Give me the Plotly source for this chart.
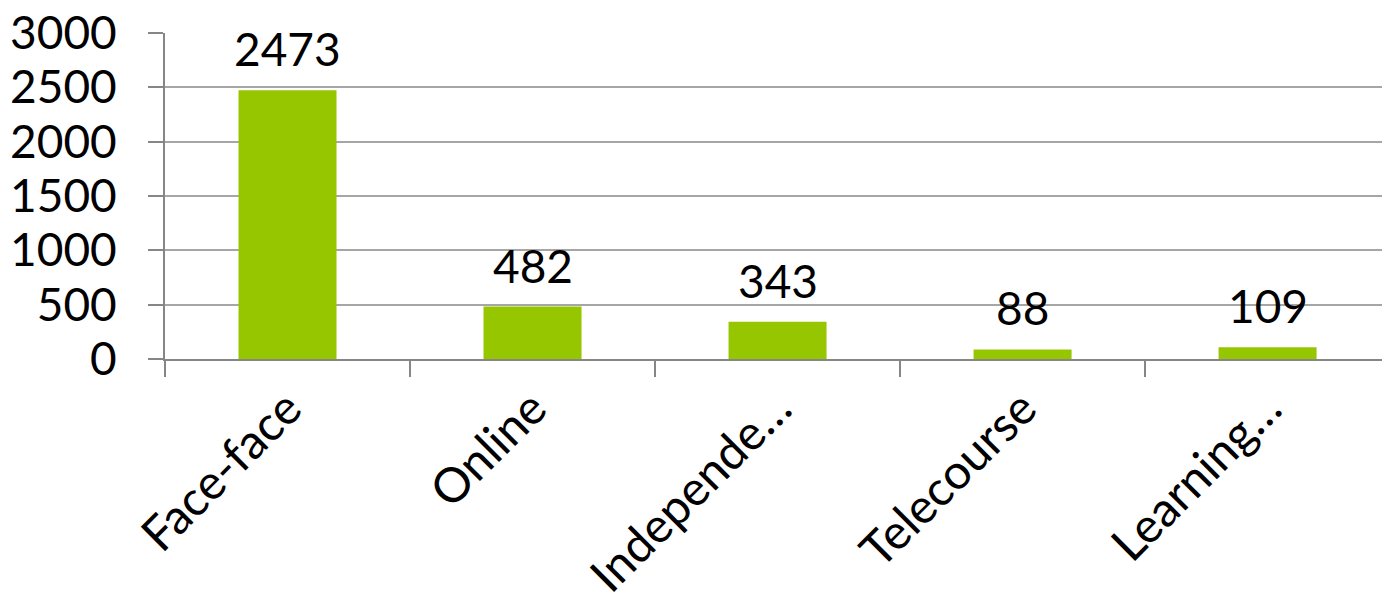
import plotly.graph_objects as go

categories = ["Face-face", "Online", "Independe…", "Telecourse", "Learning…"]
values = [2473, 482, 343, 88, 109]
y_ticks = [0, 500, 1000, 1500, 2000, 2500, 3000]

FONT = "Lato"
GREEN = "#96C600"
GRID = "#A6A6A6"
AXIS = "#868686"

fig = go.Figure()
fig.add_trace(go.Bar(
    x=categories,
    y=values,
    marker=dict(color=GREEN, line=dict(width=0)),
    width=0.4,
    hoverinfo="x+y",
))

for c, v in zip(categories, values):
    fig.add_annotation(
        x=c, y=v, text=str(v), showarrow=False,
        yanchor="bottom", xanchor="center", yshift=12,
        font=dict(family=FONT, size=46, color="black"),
    )

fig.update_layout(
    width=1382,
    height=606,
    margin=dict(l=165, r=0, t=33, b=247),
    plot_bgcolor="white",
    paper_bgcolor="white",
    showlegend=False,
    font=dict(family=FONT, size=46, color="black"),
    xaxis=dict(
        type="category",
        range=[-0.5, 4.467],
        automargin=False,
        tickson="boundaries",
        ticks="outside",
        ticklen=16,
        tickwidth=1.5,
        tickcolor=AXIS,
        showline=True,
        linecolor=AXIS,
        linewidth=2,
        tickangle=-45,
        tickfont=dict(family=FONT, size=48, color="black"),
        showgrid=False,
    ),
    yaxis=dict(
        range=[0, 3000],
        automargin=False,
        tickvals=y_ticks,
        ticks="outside",
        ticklen=15,
        tickwidth=1.5,
        tickcolor=AXIS,
        showline=True,
        linecolor=AXIS,
        linewidth=2,
        showgrid=True,
        gridcolor=GRID,
        gridwidth=1.5,
        zeroline=False,
        ticklabelstandoff=22,
        tickfont=dict(family=FONT, size=46, color="black"),
    ),
)

# remove the default 8px page margin so the figure fills the window exactly
fig.write_html(
    "out.html",
    config={"displayModeBar": False},
    post_script="document.body.style.margin='0px';",
)
